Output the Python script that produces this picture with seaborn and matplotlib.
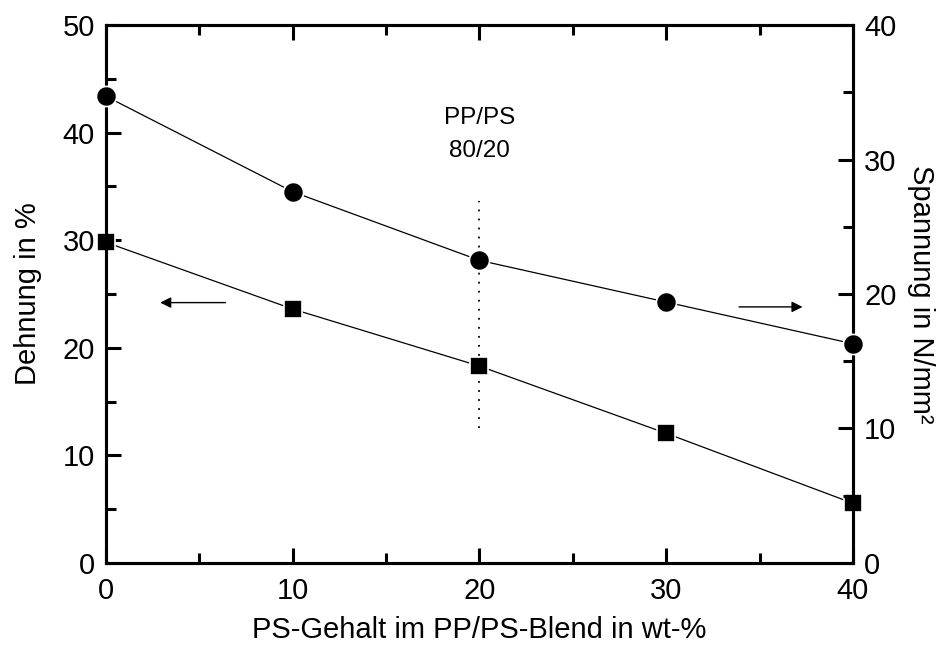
import matplotlib
matplotlib.use("Agg")
import matplotlib.pyplot as plt
import seaborn as sns
import pandas as pd
from matplotlib.ticker import MultipleLocator

# PS content in the PP/PS blend (wt-%)
ps_content = [0, 10, 20, 30, 40]
# elongation at break (%), left axis
dehnung = [29.8, 23.6, 18.3, 12.05, 5.55]
# tensile stress (N/mm²), right axis
spannung = [34.7, 27.6, 22.5, 19.4, 16.3]

df = pd.DataFrame({"ps": ps_content, "dehnung": dehnung, "spannung": spannung})

sns.set_style("ticks")
plt.rcParams["font.family"] = ["Liberation Sans", "DejaVu Sans"]
plt.rcParams.update({
    "axes.linewidth": 2.2,
    "axes.edgecolor": "black",
    "axes.labelcolor": "black",
    "text.color": "black",
    "xtick.color": "black",
    "ytick.color": "black",
})

fig = plt.figure(figsize=(9.4, 6.48), dpi=100)
ax = fig.add_axes([0.1128, 0.1312, 0.7946, 0.8302])
ax2 = ax.twinx()

sns.lineplot(data=df, x="ps", y="dehnung", ax=ax, color="black", linewidth=0.9,
             marker="s", markersize=13, markerfacecolor="black",
             markeredgecolor="white", markeredgewidth=1.2,
             clip_on=False, zorder=5)
sns.lineplot(data=df, x="ps", y="spannung", ax=ax2, color="black", linewidth=0.9,
             marker="o", markersize=14.5, markerfacecolor="black",
             markeredgecolor="white", markeredgewidth=1.2,
             clip_on=False, zorder=5)

# marker for the 80/20 blend
ax.plot([20, 20], [12.5, 33.6], color="black", linewidth=1.3,
        linestyle=(0, (1.0, 4.0)), zorder=1)
ax.text(20, 41.4, "PP/PS", ha="center", va="center", fontsize=17.5)
ax.text(20, 38.3, "80/20", ha="center", va="center", fontsize=17.5)

# arrows pointing to the axis each curve belongs to
ax.annotate("", xy=(2.9, 24.2), xytext=(6.4, 24.2),
            arrowprops=dict(arrowstyle="-|>", color="black", lw=1.0,
                            mutation_scale=16, shrinkA=0, shrinkB=0))
ax.annotate("", xy=(37.3, 23.8), xytext=(33.9, 23.8),
            arrowprops=dict(arrowstyle="-|>", color="black", lw=1.0,
                            mutation_scale=16, shrinkA=0, shrinkB=0))

ax.set_xlim(0, 40)
ax.set_ylim(0, 50)
ax2.set_ylim(0, 40)

ax.xaxis.set_major_locator(MultipleLocator(10))
ax.xaxis.set_minor_locator(MultipleLocator(5))
ax.yaxis.set_major_locator(MultipleLocator(10))
ax.yaxis.set_minor_locator(MultipleLocator(5))
ax2.yaxis.set_major_locator(MultipleLocator(10))
ax2.yaxis.set_minor_locator(MultipleLocator(5))

ax.tick_params(axis="both", which="major", direction="in", length=11, width=2.2,
               labelsize=21, pad=8, top=True, right=False)
ax.tick_params(axis="both", which="minor", direction="in", length=7, width=2.2,
               top=True, right=False)
ax.tick_params(axis="x", which="major", pad=10)
ax2.tick_params(axis="y", which="major", direction="in", length=11, width=2.2,
                labelsize=21, pad=8)
ax2.tick_params(axis="y", which="minor", direction="in", length=7, width=2.2)

ax.set_xlabel("PS-Gehalt im PP/PS-Blend in wt-%", fontsize=21, labelpad=8)
ax.set_ylabel("Dehnung in %", fontsize=21, labelpad=15)
ax2.set_ylabel("Spannung in N/mm²", fontsize=21, rotation=270, labelpad=28)

for a in (ax, ax2):
    for s in a.spines.values():
        s.set_visible(True)
        s.set_linewidth(2.2)
        s.set_color("black")

fig.savefig("out.png", dpi=100)
